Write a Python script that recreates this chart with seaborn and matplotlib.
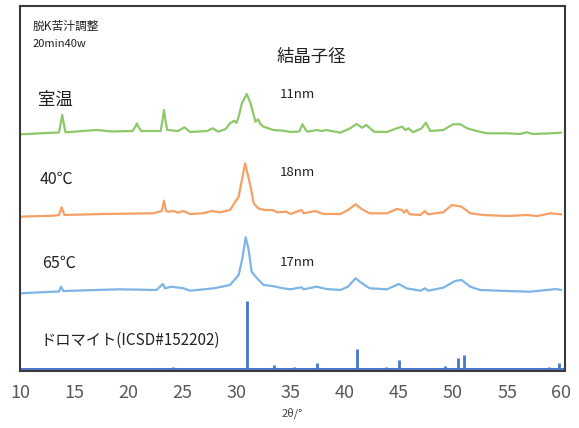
import pandas as pd
import matplotlib
matplotlib.use("Agg")
import matplotlib.pyplot as plt
import seaborn as sns

sns.set_theme(style="white")
plt.rcParams['font.family'] = ['Noto Sans CJK JP', 'DejaVu Sans']

# values (2theta / stacked intensity, arbitrary units)
rt_2theta = [10.0, 13.1, 13.6, 13.75, 13.9, 14.05, 14.2, 17.1, 18.5, 20.4, 20.65, 20.8, 20.95, 21.2,
             23.0, 23.15, 23.3, 23.45, 23.6, 24.6, 25.2, 25.7, 27.3, 27.8, 28.3, 29.0, 29.4, 29.8,
             30.0, 30.2, 30.5, 30.95, 31.25, 31.55, 31.75, 32.0, 32.2, 32.5, 33.4, 34.3, 35.0, 35.8,
             36.1, 36.4, 36.6, 37.4, 37.9, 38.3, 39.6, 40.5, 41.1, 41.6, 42.0, 42.7, 43.9, 44.8,
             45.3, 45.6, 45.9, 46.3, 47.1, 47.5, 47.9, 49.1, 50.0, 50.7, 51.3, 52.2, 53.1, 55.0,
             56.2, 56.8, 57.4, 59.0, 60.0]
rt_int = [236.7, 238.3, 238.5, 247, 256, 247, 238.7, 241, 239.5, 240, 244, 247.7, 244, 240,
          240, 250, 261, 250, 241, 240, 243.7, 239, 240, 242.7, 239.3, 242, 247.7, 250.3,
          248, 254.3, 267.7, 277, 269.3, 257.7, 249.3, 251.7, 247, 244.3, 241, 240.3, 239, 239.5,
          246.7, 241, 239.3, 241, 240, 241, 238.3, 242.7, 247, 243.3, 246, 239.3, 239, 242.7,
          244.3, 241, 242.7, 238.7, 242.7, 248.3, 240, 241, 246.7, 246.7, 242.7, 240, 237.7, 237.7,
          237, 238.7, 237, 237.7, 238.3]

c40_2theta = [10.0, 13.1, 13.6, 13.85, 14.1, 17.7, 22.3, 23.1, 23.3, 23.5, 23.7, 24.2, 24.6, 25.1,
              25.7, 26.9, 27.7, 28.5, 29.4, 29.8, 30.2, 30.5, 30.8, 31.05, 31.3, 31.6, 32.0, 32.6,
              33.3, 33.8, 34.6, 35.0, 36.0, 36.2, 37.3, 38.0, 39.6, 40.3, 41.0, 41.6, 42.3, 43.9,
              44.8, 45.3, 45.5, 45.7, 46.0, 47.0, 47.4, 47.7, 49.1, 49.9, 50.8, 51.6, 52.8, 55.0,
              56.8, 57.8, 59.0, 60.0]
c40_int = [154.3, 155.3, 156, 163.7, 156, 157, 157.7, 160, 170.3, 160, 159.3, 160, 158.3, 160,
           157, 157.7, 160, 158.7, 161, 167.7, 174.3, 191, 207.7, 196, 184.3, 167.7, 162.7, 161,
           161, 158.7, 159.3, 157, 161, 157.7, 160, 157, 157, 161, 166.7, 161.7, 157.7, 157.7,
           162, 161, 158.3, 161, 156.7, 156, 160, 156.7, 158.7, 166, 164.3, 157.7, 156, 155,
           156, 155, 157.7, 156.7]

c65_2theta = [10.0, 13.1, 13.6, 13.8, 14.0, 19.2, 22.6, 23.2, 23.4, 24.0, 25.1, 25.7, 27.9, 29.4,
              30.2, 30.55, 30.85, 31.1, 31.4, 31.9, 32.5, 33.3, 34.3, 35.0, 36.0, 36.2, 37.4, 38.3,
              39.6, 40.3, 41.0, 41.6, 42.3, 43.9, 45.0, 45.7, 47.0, 47.4, 47.7, 49.1, 50.2, 50.8,
              51.6, 52.5, 55.0, 57.1, 58.7, 59.5, 60.0]
c65_int = [77.7, 79.3, 79.5, 84.3, 80, 81.7, 81, 87, 82.7, 84.3, 82.7, 80.3, 82.7, 86,
           96, 113, 133.7, 122.7, 99.3, 92.7, 86, 85, 82.7, 81.7, 83.7, 81.7, 84.3, 82,
           81, 84.3, 92.7, 87.7, 82.7, 81.7, 87, 82.7, 80.3, 82.7, 80.3, 83.3, 90, 91,
           84.3, 81, 80, 79.3, 81, 82, 81]

dolomite_2theta = [24.1, 31.0, 33.5, 35.3, 37.4, 41.1, 43.8, 45.0, 49.3, 50.5, 51.0, 58.9, 59.8]
dolomite_int = [2, 68, 4, 2.3, 6.3, 20, 2.3, 9, 3, 11, 14, 2.3, 6]
dolomite_base = 2

samples = ['室温', '40℃', '65℃']
sizes = ['11nm', '18nm', '17nm']
colors = {'室温': '#8DC86A', '40℃': '#F4A067', '65℃': '#7EB4E6'}
dolomite_color = '#4A75CB'

df = pd.concat([
    pd.DataFrame({'2θ': rt_2theta, 'I': rt_int, 'sample': '室温'}),
    pd.DataFrame({'2θ': c40_2theta, 'I': c40_int, 'sample': '40℃'}),
    pd.DataFrame({'2θ': c65_2theta, 'I': c65_int, 'sample': '65℃'}),
])

fig = plt.figure(figsize=(5.79, 4.28), dpi=100)
ax = fig.add_axes([20 / 579, 57 / 428, 545 / 579, 365 / 428])

sns.lineplot(data=df, x='2θ', y='I', hue='sample', palette=colors, estimator=None,
             sort=False, linewidth=1.6, legend=False, ax=ax)

ax.axhline(dolomite_base, color=dolomite_color, lw=1.4)
ax.vlines(dolomite_2theta, dolomite_base,
          [dolomite_base + h for h in dolomite_int], color=dolomite_color, lw=2.0)

ax.set_xlim(10, 60.35)
ax.set_ylim(0, 365)
ax.set_xticks(range(10, 61, 5))
ax.set_yticks([])
ax.tick_params(axis='x', length=0, pad=9, labelsize=13, labelcolor='#595959')
for s in ax.spines.values():
    s.set_color('#3a3a3a')
    s.set_linewidth(1.5)
ax.set_xlabel('2θ/°', fontsize=8, color='#404040', labelpad=4)
ax.set_ylabel('')

tc = '#222222'
ax.text(11.2, 345, '脱K苦汁調整', fontsize=8.5, color=tc, va='center')
ax.text(11.2, 327, '20min40w', fontsize=8, color=tc, va='center')
ax.text(36.9, 314, '結晶子径', fontsize=12.5, color=tc, va='center', ha='center')

label_y = [271.5, 192, 108]
label_x = [11.7, 11.8, 12.0]
size_y = [276, 199, 109]
for name, nm, lx, ly, sy in zip(samples, sizes, label_x, label_y, size_y):
    ax.text(lx, ly, name, fontsize=12.5 if name == '室温' else 11.5, color=tc, va='center')
    ax.text(34.0, sy, nm, fontsize=9.5, color=tc, va='center')

ax.text(11.85, 31, 'ドロマイト(ICSD#152202)', fontsize=11, color=tc, va='center')

fig.savefig('out.png', dpi=100)
